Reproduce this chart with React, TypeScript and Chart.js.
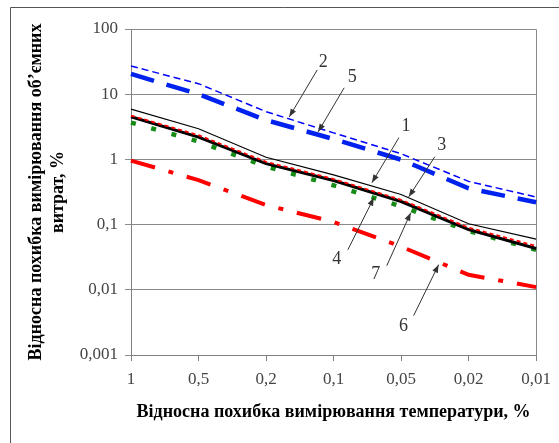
import React, { useEffect, useRef } from 'react';
import { Chart, registerables } from 'chart.js';

Chart.register(...registerables);

const FONT = "'Liberation Serif', 'Times New Roman', serif";

// Category labels (relative temperature measurement error, %)
const xLabels = ['1', '0,5', '0,2', '0,1', '0,05', '0,02', '0,01'];

// Y axis decades and their labels
const yTicks = [0.001, 0.01, 0.1, 1, 10, 100];
const yTickLabels = ['0,001', '0,01', '0,1', '1', '10', '100'];

// Series values (relative volume flow measurement error, %)
const series1 = [5.9, 2.95, 1.08, 0.58, 0.29, 0.103, 0.06];
const series2 = [27, 14.5, 5.4, 2.55, 1.22, 0.46, 0.265];
const series3 = [4.7, 2.35, 0.92, 0.5, 0.24, 0.09, 0.047];
const series4 = [4.5, 2.2, 0.86, 0.475, 0.226, 0.084, 0.043];
const series5 = [20.5, 10, 4.0, 2.05, 0.99, 0.36, 0.22];
const series6 = [0.96, 0.48, 0.2, 0.11, 0.046, 0.017, 0.011];
const series7 = [3.67, 1.88, 0.78, 0.4, 0.19, 0.08, 0.041];

// Callout numbers: arrow tip anchored at (category index, value); text / tail offsets in px
const callouts = [
  { text: '2', idx: 2.344, val: 4.49, tx: 34, ty: -55, ax: 28, ay: -47 },
  { text: '5', idx: 2.772, val: 2.65, tx: 34, ty: -55, ax: 26, ay: -44 },
  { text: '1', idx: 3.568, val: 0.44, tx: 34, ty: -56, ax: 27, ay: -45 },
  { text: '3', idx: 4.114, val: 0.267, tx: 33, ty: -52, ax: 26, ay: -40 },
  { text: '4', idx: 3.597, val: 0.258, tx: -37, ty: 62, ax: -26, ay: 52 },
  { text: '7', idx: 4.143, val: 0.152, tx: -35, ty: 62, ax: -24, ay: 53 },
  { text: '6', idx: 4.556, val: 0.0243, tx: -35, ty: 62, ax: -25, ay: 51 },
];

export default function App() {
  const ref = useRef<HTMLCanvasElement>(null);

  useEffect(() => {
    if (!ref.current) return;

    const decor = {
      id: 'decor',
      beforeDraw(chart: any) {
        const ctx = chart.ctx;
        ctx.save();
        ctx.fillStyle = '#ffffff';
        ctx.fillRect(0, 0, chart.width, chart.height);
        ctx.strokeStyle = '#555555';
        ctx.lineWidth = 1;
        ctx.beginPath();
        ctx.moveTo(10.5, chart.height);
        ctx.lineTo(10.5, 7.5);
        ctx.lineTo(chart.width, 7.5);
        ctx.stroke();
        ctx.restore();
      },
      beforeDatasetsDraw(chart: any) {
        const { ctx, chartArea } = chart;
        ctx.save();
        ctx.strokeStyle = '#8a8a8a';
        ctx.lineWidth = 1;
        ctx.beginPath();
        ctx.moveTo(chartArea.left, Math.round(chartArea.top) + 0.5);
        ctx.lineTo(Math.round(chartArea.right) + 0.5, Math.round(chartArea.top) + 0.5);
        ctx.lineTo(Math.round(chartArea.right) + 0.5, chartArea.bottom);
        ctx.stroke();
        ctx.restore();
      },
      afterDatasetsDraw(chart: any) {
        const { ctx } = chart;
        const xs = chart.scales.x;
        const ys = chart.scales.y;
        ctx.save();
        ctx.strokeStyle = '#333333';
        ctx.fillStyle = '#333333';
        ctx.lineWidth = 1;
        ctx.font = `18px ${FONT}`;
        ctx.textAlign = 'center';
        ctx.textBaseline = 'middle';
        for (const c of callouts) {
          const px = xs.getPixelForValue(c.idx);
          const py = ys.getPixelForValue(c.val);
          const sx = px + c.ax;
          const sy = py + c.ay;
          ctx.beginPath();
          ctx.moveTo(sx, sy);
          ctx.lineTo(px, py);
          ctx.stroke();
          const ang = Math.atan2(py - sy, px - sx);
          const L = 8;
          const W = 3;
          ctx.beginPath();
          ctx.moveTo(px, py);
          ctx.lineTo(px - L * Math.cos(ang) + W * Math.sin(ang), py - L * Math.sin(ang) - W * Math.cos(ang));
          ctx.lineTo(px - L * Math.cos(ang) - W * Math.sin(ang), py - L * Math.sin(ang) + W * Math.cos(ang));
          ctx.closePath();
          ctx.fill();
          ctx.fillText(c.text, px + c.tx, py + c.ty);
        }
        ctx.restore();
      },
    };

    const chart = new Chart(ref.current, {
      type: 'line',
      data: {
        labels: xLabels,
        datasets: [
          { label: '1', data: series1, borderColor: '#000000', borderWidth: 1.2, order: 1 },
          { label: '2', data: series2, borderColor: '#0000FF', borderWidth: 1.5, borderDash: [7, 4], order: 5 },
          { label: '3', data: series3, borderColor: '#FF0000', borderWidth: 1.8, borderDash: [4, 3], order: 2 },
          { label: '4', data: series4, borderColor: '#000000', borderWidth: 3, order: 3 },
          { label: '5', data: series5, borderColor: '#0022EE', borderWidth: 4.5, borderDash: [24, 13], order: 6 },
          { label: '6', data: series6, borderColor: '#FF0000', borderWidth: 4, borderDash: [25, 14, 5, 14], order: 7 },
          { label: '7', data: series7, borderColor: '#158A15', borderWidth: 4.5, borderDash: [5, 16], order: 4 },
        ].map((d) => ({ ...d, pointRadius: 0, tension: 0, fill: false, borderCapStyle: 'butt' as const })),
      },
      options: {
        animation: false,
        responsive: true,
        maintainAspectRatio: false,
        layout: { padding: { left: 0, right: 21, top: 29, bottom: 0 } },
        plugins: {
          legend: { display: false },
          tooltip: { enabled: false },
        },
        scales: {
          x: {
            type: 'category',
            offset: false,
            afterFit: (s: any) => { s.height = 88; },
            grid: { display: true, drawOnChartArea: false, drawTicks: true, tickLength: 6, color: '#808080', offset: false },
            border: { display: true, color: '#808080', width: 1 },
            ticks: { font: { family: FONT, size: 17 }, color: '#454545', padding: 8, maxRotation: 0, autoSkip: false },
            title: {
              display: true,
              text: 'Відносна похибка вимірювання температури, %',
              font: { family: FONT, size: 18, weight: 'bold' },
              color: '#000000',
              padding: { top: 0, bottom: 20 },
            },
          },
          y: {
            type: 'logarithmic',
            min: 0.001,
            max: 100,
            afterBuildTicks: (s: any) => { s.ticks = yTicks.map((v) => ({ value: v })); },
            afterFit: (s: any) => { s.width = 131; },
            grid: { color: '#8a8a8a', lineWidth: 1, tickLength: 6, drawTicks: true },
            border: { display: true, color: '#808080', width: 1 },
            ticks: {
              font: { family: FONT, size: 17 },
              color: '#454545',
              padding: 7,
              autoSkip: false,
              callback: (v: any) => {
                const i = yTicks.findIndex((t) => Math.abs(Math.log10(t) - Math.log10(Number(v))) < 1e-6);
                return i >= 0 ? yTickLabels[i] : '';
              },
            },
            title: {
              display: true,
              text: ['Відносна похибка вимірювання об’ємних', 'витрат, %'],
              font: { family: FONT, size: 18, weight: 'bold' },
              color: '#000000',
              padding: { top: 26, bottom: 0 },
            },
          },
        },
      },
      plugins: [decor],
    });

    return () => chart.destroy();
  }, []);

  return (
    <div style={{ position: 'absolute', left: 0, top: 0, width: 559, height: 443, background: '#fff' }}>
      <canvas ref={ref} />
    </div>
  );
}
